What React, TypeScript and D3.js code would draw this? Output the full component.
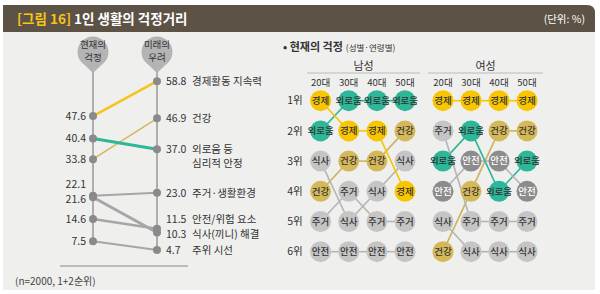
import React from 'react';
import * as d3 from 'd3';

// left panel: current worry vs future concern (%)
const items = ['경제활동 지속력', '건강', '외로움 등\n심리적 안정', '주거·생활환경', '안전/위험 요소', '식사(끼니) 해결', '주위 시선'];
const nowValues = [47.6, 33.8, 40.4, 22.1, 14.6, 21.6, 7.5];
const futureValues = [58.8, 46.9, 37.0, 23.0, 11.5, 10.3, 4.7];
const lineColors = ['#f6c51b', '#d2b862', '#2db697', '#a6a6a6', '#a6a6a6', '#a6a6a6', '#a6a6a6'];
const lineWidths = [2.5, 1.5, 3, 2, 2.5, 3, 2];
// label offsets where points overlap
const nowLabelShift = [0, 0, 0, -11, 0, 2, 0];
const futureLabelShift = [0, 0, 0, 0, -9, 2, 0];

// right panel: ranking by sex & age
const groups = ['남성', '여성'];
const ages = ['20대', '30대', '40대', '50대'];
const ranks = ['1위', '2위', '3위', '4위', '5위', '6위'];
const maleRanks = [
  ['경제', '외로움', '식사', '건강', '주거', '안전'],
  ['외로움', '경제', '건강', '주거', '식사', '안전'],
  ['외로움', '경제', '건강', '식사', '주거', '안전'],
  ['외로움', '건강', '식사', '경제', '주거', '안전'],
];
const femaleRanks = [
  ['경제', '주거', '외로움', '안전', '식사', '건강'],
  ['경제', '외로움', '안전', '건강', '주거', '식사'],
  ['경제', '건강', '안전', '외로움', '주거', '식사'],
  ['경제', '건강', '외로움', '안전', '주거', '식사'],
];

const fill: Record<string, string> = {
  경제: '#f7c600', 외로움: '#2db697', 건강: '#d4b85a', 식사: '#c5c5c5', 주거: '#c5c5c5', 안전: '#c5c5c5',
};
const link: Record<string, string> = {
  경제: '#f7c600', 외로움: '#2db697', 건강: '#cdb35c', 식사: '#b5b5b5', 주거: '#b5b5b5', 안전: '#b5b5b5',
};

const FONT = '"Noto Sans CJK KR", "Noto Sans", sans-serif';

function Pin({ x, lines }: { x: number; lines: string[] }) {
  const cy = 52, r = 15.5, tip = 73;
  const a = 0.55;
  const d = `M${x + r * Math.sin(a)},${cy + r * Math.cos(a)} A${r},${r} 0 1 0 ${x - r * Math.sin(a)},${cy + r * Math.cos(a)} L${x},${tip} Z`;
  return (
    <g>
      <path d={d} fill="#b4b4b4" />
      <text x={x} y={cy - 4} textAnchor="middle" fontSize={9.5} fill="#333">{lines[0]}</text>
      <text x={x} y={cy + 9} textAnchor="middle" fontSize={9.5} fill="#333">{lines[1]}</text>
    </g>
  );
}

export default function App() {
  const xNow = 93, xFut = 157;
  const y = d3.scaleLinear().domain([0, 60]).range([264.6, 77.4]);

  const col = d3.scaleLinear().domain([0, 3]).range([320.6, 405]);
  const colF = d3.scaleLinear().domain([0, 3]).range([443, 527]);
  const row = d3.scaleLinear().domain([0, 5]).range([100.7, 251.7]);

  const panels = [
    { name: groups[0], data: maleRanks, cx: col, line: [307, 420] },
    { name: groups[1], data: femaleRanks, cx: colF, line: [428, 543] },
  ];

  return (
    <svg width={600} height={294} style={{ position: 'absolute', left: 0, top: 0, fontFamily: FONT }}>
      <rect x={0} y={0} width={600} height={294} fill="#fff" />
      <rect x={3} y={32} width={592} height={258} fill="#efefee" />
      <path d="M3,5 H587 Q595,5 595,13 V32 H3 Z" fill="#5c5245" />
      <text x={17} y={24} fontSize={13.5} fontWeight="bold">
        <tspan fill="#f5c518">[그림 16]</tspan>
        <tspan fill="#fff" dx={3}>1인 생활의 걱정거리</tspan>
      </text>
      <text x={585} y={23} fontSize={10.5} fill="#fff" textAnchor="end">(단위: %)</text>

      {/* left: slope chart */}
      <line x1={xNow} x2={xNow} y1={72} y2={y(d3.min(nowValues)!)} stroke="#999" strokeWidth={1.5} />
      <line x1={xFut} x2={xFut} y1={72} y2={y(d3.min(futureValues)!)} stroke="#999" strokeWidth={1.5} />
      <Pin x={xNow} lines={['현재의', '걱정']} />
      <Pin x={xFut} lines={['미래의', '우려']} />
      {items.map((_, i) => (
        <line key={'l' + i} x1={xNow} y1={y(nowValues[i])} x2={xFut} y2={y(futureValues[i])}
          stroke={lineColors[i]} strokeWidth={lineWidths[i]} />
      ))}
      {items.map((name, i) => (
        <g key={'p' + i} fontSize={10.5} fill="#333">
          <circle cx={xNow} cy={y(nowValues[i])} r={4} fill="#8a8a8a" />
          <circle cx={xFut} cy={y(futureValues[i])} r={4} fill="#8a8a8a" />
          <text x={86} y={y(nowValues[i]) + nowLabelShift[i]} dy="0.35em" textAnchor="end">{nowValues[i].toFixed(1)}</text>
          <text x={166} y={y(futureValues[i]) + futureLabelShift[i]} dy="0.35em">{futureValues[i].toFixed(1)}</text>
          {name.split('\n').map((t, k) => (
            <text key={k} x={192} y={y(futureValues[i]) + futureLabelShift[i] + k * 14} dy="0.35em">{t}</text>
          ))}
        </g>
      ))}
      <line x1={60} x2={188} y1={266} y2={266} stroke="#888" strokeWidth={1} />
      <text x={15} y={285} fontSize={10} fill="#444">(n=2000, 1+2순위)</text>

      {/* right: ranking */}
      <text x={283} y={51} fontSize={11} fill="#333">
        <tspan fontWeight="bold">• 현재의 걱정</tspan>
        <tspan fontSize={8.5} dx={3}>(성별·연령별)</tspan>
      </text>
      {ranks.map((r, i) => (
        <text key={r} x={295} y={row(i)} dy="0.35em" textAnchor="middle" fontSize={10.5} fill="#333">{r}</text>
      ))}
      {panels.map((p) => (
        <g key={p.name}>
          <text x={(p.line[0] + p.line[1]) / 2} y={66} dy="0.35em" textAnchor="middle" fontSize={11} fill="#333">{p.name}</text>
          <line x1={p.line[0]} x2={p.line[1]} y1={73} y2={73} stroke="#bbb" strokeWidth={1} />
          {ages.map((a, j) => (
            <text key={a} x={p.cx(j)} y={83} dy="0.35em" textAnchor="middle" fontSize={9.5} fill="#333">{a}</text>
          ))}
          {p.data.slice(1).map((colData, j) =>
            colData.map((cat, k) => {
              const prev = p.data[j].indexOf(cat);
              return (
                <line key={j + '-' + k} x1={p.cx(j)} y1={row(prev)} x2={p.cx(j + 1)} y2={row(k)}
                  stroke={link[cat]} strokeWidth={1.6} />
              );
            })
          )}
          {p.data.map((colData, j) =>
            colData.map((cat, k) => {
              const darkSafe = p.name === '여성' && cat === '안전';
              return (
                <g key={'c' + j + k}>
                  <circle cx={p.cx(j)} cy={row(k)} r={10.5} fill={darkSafe ? '#8c8c8c' : fill[cat]} />
                  <text x={p.cx(j)} y={row(k)} dy="0.35em" textAnchor="middle" fontSize={9.5} fontWeight={500}
                    fill={darkSafe ? '#fff' : '#333'}>{cat}</text>
                </g>
              );
            })
          )}
        </g>
      ))}
    </svg>
  );
}
